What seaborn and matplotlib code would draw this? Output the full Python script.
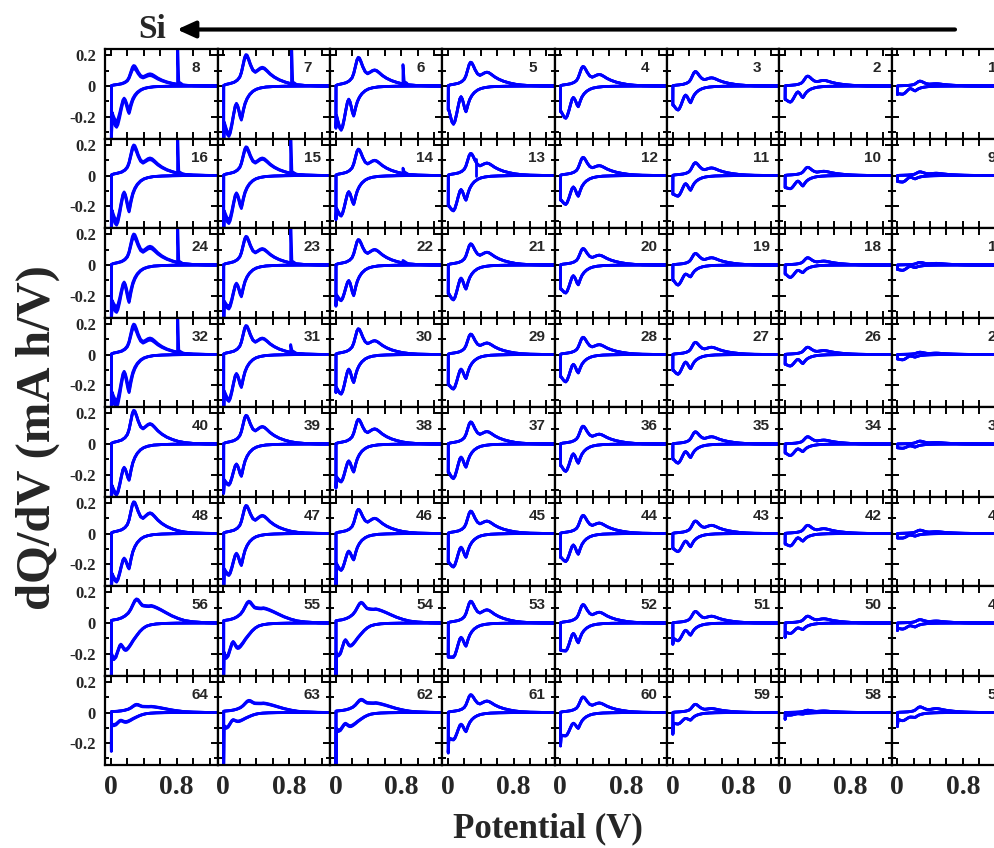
import numpy as np
import pandas as pd
import matplotlib
matplotlib.use("Agg")
import matplotlib.pyplot as plt
import seaborn as sns
from matplotlib.patches import FancyArrowPatch
from matplotlib.ticker import MultipleLocator, FixedLocator, FuncFormatter

# ---------------- data (panel order 1..64) ----------------
panel_ids = list(range(1, 65))
peak1 = [0.032, 0.065, 0.095, 0.128, 0.156, 0.188, 0.206, 0.134,
         0.024, 0.054, 0.084, 0.119, 0.145, 0.173, 0.188, 0.200,
         0.017, 0.048, 0.076, 0.108, 0.139, 0.167, 0.188, 0.203,
         0.015, 0.048, 0.080, 0.113, 0.134, 0.169, 0.190, 0.199,
         0.019, 0.048, 0.080, 0.117, 0.145, 0.162, 0.188, 0.221,
         0.022, 0.054, 0.082, 0.119, 0.147, 0.158, 0.184, 0.208,
         0.022, 0.045, 0.076, 0.121, 0.143, 0.136, 0.143, 0.158,
         0.037, 0.015, 0.054, 0.102, 0.117, 0.087, 0.080, 0.054]
peak2 = [0.015, 0.037, 0.054, 0.076, 0.091, 0.106, 0.123, 0.080,
         0.015, 0.028, 0.050, 0.065, 0.082, 0.100, 0.115, 0.115,
         0.011, 0.026, 0.048, 0.065, 0.084, 0.102, 0.108, 0.123,
         0.009, 0.026, 0.048, 0.065, 0.076, 0.091, 0.108, 0.108,
         0.010, 0.026, 0.048, 0.065, 0.082, 0.100, 0.115, 0.134,
         0.012, 0.032, 0.054, 0.069, 0.082, 0.100, 0.119, 0.136,
         0.013, 0.028, 0.045, 0.071, 0.087, 0.093, 0.100, 0.115,
         0.026, 0.010, 0.026, 0.063, 0.076, 0.065, 0.063, 0.041]
dip1 = [0.032, 0.076, 0.110, 0.136, 0.169, 0.197, 0.223, 0.180,
        0.022, 0.069, 0.097, 0.136, 0.162, 0.190, 0.216, 0.238,
        0.017, 0.050, 0.078, 0.130, 0.158, 0.201, 0.208, 0.245,
        0.017, 0.060, 0.093, 0.121, 0.158, 0.184, 0.216, 0.249,
        0.020, 0.050, 0.089, 0.126, 0.152, 0.184, 0.212, 0.238,
        0.017, 0.050, 0.087, 0.136, 0.156, 0.173, 0.210, 0.232,
        0.026, 0.043, 0.080, 0.130, 0.152, 0.152, 0.167, 0.180,
        0.032, 0.010, 0.050, 0.104, 0.126, 0.093, 0.060, 0.065]
lmax = [0.017, 0.039, 0.060, 0.076, 0.071, 0.089, 0.120, 0.093,
        0.011, 0.037, 0.054, 0.076, 0.093, 0.108, 0.123, 0.119,
        0.009, 0.035, 0.060, 0.071, 0.087, 0.104, 0.126, 0.126,
        0.010, 0.032, 0.050, 0.065, 0.097, 0.097, 0.130, 0.126,
        0.012, 0.032, 0.050, 0.065, 0.087, 0.113, 0.134, 0.158,
        0.010, 0.028, 0.050, 0.076, 0.091, 0.117, 0.134, 0.167,
        0.018, 0.032, 0.048, 0.069, 0.095, 0.113, 0.128, 0.145,
        0.030, 0.008, 0.039, 0.071, 0.078, 0.076, 0.050, 0.055]
dip2 = [0.054, 0.106, 0.158, 0.212, 0.251, 0.290, 0.330, 0.270,
        0.043, 0.087, 0.136, 0.190, 0.232, 0.266, 0.314, 0.325,
        0.035, 0.082, 0.132, 0.184, 0.229, 0.234, 0.288, 0.310,
        0.035, 0.076, 0.130, 0.180, 0.227, 0.260, 0.307, 0.346,
        0.028, 0.076, 0.126, 0.180, 0.227, 0.249, 0.270, 0.335,
        0.030, 0.082, 0.119, 0.184, 0.220, 0.242, 0.275, 0.318,
        0.040, 0.069, 0.117, 0.184, 0.225, 0.216, 0.232, 0.240,
        0.054, 0.017, 0.076, 0.154, 0.180, 0.125, 0.104, 0.087]
dend = [0.050, 0.089, 0.126, 0.169, 0.158, 0.200, 0.250, 0.200,
        0.040, 0.080, 0.123, 0.162, 0.200, 0.220, 0.250, 0.250,
        0.030, 0.060, 0.100, 0.158, 0.190, 0.200, 0.250, 0.260,
        0.030, 0.065, 0.104, 0.147, 0.200, 0.220, 0.250, 0.280,
        0.025, 0.060, 0.100, 0.143, 0.188, 0.220, 0.240, 0.280,
        0.030, 0.070, 0.100, 0.158, 0.190, 0.200, 0.240, 0.270,
        0.035, 0.060, 0.100, 0.180, 0.225, 0.200, 0.200, 0.210,
        0.045, 0.017, 0.070, 0.150, 0.170, 0.110, 0.090, 0.080]
dlow = [0.056, 0.089, 0.126, 0.169, 0.158, 0.277, 0.400, 0.400,
        0.040, 0.080, 0.123, 0.162, 0.200, 0.290, 0.400, 0.400,
        0.030, 0.060, 0.100, 0.158, 0.190, 0.270, 0.400, 0.400,
        0.030, 0.065, 0.104, 0.147, 0.200, 0.250, 0.400, 0.400,
        0.025, 0.060, 0.100, 0.143, 0.188, 0.290, 0.325, 0.400,
        0.030, 0.070, 0.100, 0.158, 0.190, 0.400, 0.400, 0.400,
        0.050, 0.095, 0.140, 0.180, 0.225, 0.400, 0.400, 0.400,
        0.093, 0.045, 0.143, 0.220, 0.266, 0.400, 0.400, 0.255]
spread = [0.02, 0.02, 0.02, 0.02, 0.02, 0.04, 0.06, 0.15,
          0.02, 0.02, 0.02, 0.02, 0.02, 0.03, 0.08, 0.10,
          0.02, 0.02, 0.02, 0.02, 0.02, 0.03, 0.06, 0.12,
          0.02, 0.02, 0.02, 0.02, 0.02, 0.02, 0.05, 0.13,
          0.02, 0.02, 0.02, 0.02, 0.02, 0.03, 0.03, 0.04,
          0.02, 0.02, 0.02, 0.02, 0.02, 0.02, 0.04, 0.04,
          0.02, 0.02, 0.02, 0.02, 0.02, 0.04, 0.06, 0.05,
          0.02, 0.02, 0.02, 0.02, 0.03, 0.08, 0.08, 0.10]
shape_kind = ("AAAAAAAA" "AAAAAAAA" "AAAAAAAA" "AAAAAAAA"
              "AAAAAAAA" "AAAAAAAA" "AAAAABBB" "AAAAABBB")

# sharp spikes seen in some panels (potential, base value, tip value)
spike_panel = [8, 7, 6, 16, 15, 14, 24, 23, 22, 32, 31, 13]
spike_v = [0.81, 0.83, 0.82, 0.81, 0.82, 0.82, 0.81, 0.82, 0.82, 0.81, 0.82, 0.34]
spike_base = [0.012, 0.012, 0.015, 0.012, 0.012, 0.010, 0.012, 0.012, 0.010, 0.012, 0.012, 0.110]
spike_tip = [0.30, 0.30, 0.14, 0.30, 0.30, 0.048, 0.30, 0.30, 0.03, 0.30, 0.065, 0.0]

# normalised curve templates
# discharge (potential descending): weights of dip1, local max, dip2, end value
DIS = {
    "A": dict(v=[1.30, 1.10, 0.90, 0.75, 0.62, 0.52, 0.45, 0.40, 0.36, 0.32, 0.29, 0.265, 0.245, 0.23,
                 0.22, 0.205, 0.19, 0.175, 0.16, 0.145, 0.125, 0.105, 0.085, 0.068, 0.05, 0.035, 0.022, 0.012],
              d1=[0, 0, 0.002, 0.006, 0.015, 0.03, 0.06, 0.10, 0.16, 0.26, 0.38, 0.53, 0.72, 0.90,
                  1.0, 0.80, 0.45, 0.15, 0, 0, 0, 0, 0, 0, 0, 0, 0, 0],
              lm=[0, 0, 0, 0, 0, 0, 0, 0, 0, 0, 0, 0, 0, 0,
                  0, 0.2, 0.55, 0.85, 1.0, 0.92, 0.65, 0.35, 0.10, 0, 0, 0, 0, 0],
              d2=[0, 0, 0, 0, 0, 0, 0, 0, 0, 0, 0, 0, 0, 0,
                  0, 0, 0, 0, 0, 0.08, 0.35, 0.65, 0.90, 1.0, 0.85, 0.55, 0.25, 0],
              de=[0, 0, 0, 0, 0, 0, 0, 0, 0, 0, 0, 0, 0, 0,
                  0, 0, 0, 0, 0, 0, 0, 0, 0, 0, 0.15, 0.45, 0.75, 1.0]),
    "B": dict(v=[1.30, 1.00, 0.80, 0.65, 0.55, 0.48, 0.43, 0.39, 0.35, 0.31, 0.27, 0.24, 0.21, 0.19,
                 0.175, 0.16, 0.145, 0.13, 0.12, 0.105, 0.09, 0.075, 0.06, 0.047, 0.035, 0.025, 0.015, 0.008],
              d1=[0, 0, 0.005, 0.015, 0.035, 0.07, 0.12, 0.20, 0.32, 0.48, 0.65, 0.80, 0.93, 0.99,
                  1.0, 0.85, 0.50, 0.15, 0, 0, 0, 0, 0, 0, 0, 0, 0, 0],
              lm=[0, 0, 0, 0, 0, 0, 0, 0, 0, 0, 0, 0, 0, 0,
                  0, 0.15, 0.50, 0.85, 1.0, 0.90, 0.65, 0.40, 0.15, 0, 0, 0, 0, 0],
              d2=[0, 0, 0, 0, 0, 0, 0, 0, 0, 0, 0, 0, 0, 0,
                  0, 0, 0, 0, 0, 0.10, 0.35, 0.60, 0.85, 0.97, 1.0, 0.8, 0.4, 0],
              de=[0, 0, 0, 0, 0, 0, 0, 0, 0, 0, 0, 0, 0, 0,
                  0, 0, 0, 0, 0, 0, 0, 0, 0, 0, 0, 0.2, 0.6, 1.0]),
}
# charge (potential ascending): weights of peak1, peak2
CHG = {
    "A": dict(v=[0.005, 0.03, 0.08, 0.13, 0.17, 0.20, 0.22, 0.24, 0.26, 0.275, 0.29, 0.31, 0.33, 0.36, 0.39,
                 0.42, 0.45, 0.475, 0.50, 0.53, 0.57, 0.62, 0.68, 0.75, 0.82, 0.90, 1.00, 1.15, 1.30],
              p1=[0.02, 0.05, 0.08, 0.12, 0.19, 0.29, 0.44, 0.68, 0.92, 1.0, 0.96, 0.78, 0.55, 0.30, 0.13,
                  0.05, 0.02, 0, 0, 0, 0, 0, 0, 0, 0, 0, 0, 0, 0],
              p2=[0, 0, 0, 0, 0, 0, 0, 0, 0, 0, 0.04, 0.13, 0.25, 0.37, 0.55,
                  0.78, 0.93, 1.0, 0.96, 0.84, 0.66, 0.49, 0.34, 0.22, 0.13, 0.07, 0.03, 0.01, 0.002]),
    "B": dict(v=[0.005, 0.03, 0.08, 0.13, 0.17, 0.21, 0.24, 0.27, 0.29, 0.31, 0.33, 0.355, 0.38, 0.40,
                 0.43, 0.46, 0.49, 0.52, 0.56, 0.61, 0.67, 0.74, 0.82, 0.90, 1.00, 1.15, 1.30],
              p1=[0.11, 0.13, 0.16, 0.22, 0.30, 0.42, 0.58, 0.80, 0.94, 1.0, 0.90, 0.60, 0.30, 0.15,
                  0.05, 0, 0, 0, 0, 0, 0, 0, 0, 0, 0, 0, 0],
              p2=[0, 0, 0, 0, 0, 0, 0, 0, 0, 0, 0.10, 0.35, 0.62, 0.80,
                  0.92, 0.98, 1.0, 0.96, 0.88, 0.76, 0.60, 0.42, 0.26, 0.14, 0.07, 0.02, 0.005]),
}

y_tick_labels = {0.2: "0.2", 0.0: "0", -0.2: "-0.2"}
x_tick_labels = {0.0: "0", 0.8: "0.8"}

# ---------------- style ----------------
sns.set_style("ticks")
plt.rcParams["font.family"] = ["Liberation Serif", "DejaVu Serif"]
plt.rcParams["axes.unicode_minus"] = False

W, H = 995, 848
fig = plt.figure(figsize=(W / 100, H / 100), dpi=100)

LINE = "#0000ff"
LW = 2.0
x0_px, y0_px, cw, rh = 105.5, 49.3, 112.3, 89.5
SANS = ["Liberation Sans", "DejaVu Sans"]


def cycle_frame(i):
    k = shape_kind[i]
    d, c = DIS[k], CHG[k]
    rows = []
    for cyc, f in enumerate([1.0, 1.0 - spread[i] / 2, 1.0 - spread[i]]):
        dv = np.array(d["v"])
        dy = -(np.array(d["d1"]) * dip1[i] + np.array(d["lm"]) * lmax[i]
               + np.array(d["d2"]) * dip2[i] + np.array(d["de"]) * dend[i]) * f
        cv = np.array(c["v"])
        cy = (np.array(c["p1"]) * peak1[i] + np.array(c["p2"]) * peak2[i]) * f
        vv = np.concatenate([dv, [0.004], cv])
        yy = np.concatenate([dy, [-dlow[i] * (f if dlow[i] < 0.35 else 1.0)], cy])
        rows.append(pd.DataFrame({"V": vv, "dQ": yy, "cycle": cyc}))
    return pd.concat(rows, ignore_index=True)


for r in range(8):
    for ci in range(8):
        pid = 8 * r + (8 - ci)
        i = pid - 1
        left = x0_px + ci * cw
        top = y0_px + r * rh
        ax = fig.add_axes([left / W, 1 - (top + rh) / H, cw / W, rh / H])
        df = cycle_frame(i)
        sns.lineplot(data=df, x="V", y="dQ", units="cycle", estimator=None, sort=False,
                     color=LINE, lw=LW, ax=ax, legend=False)
        for sp, sv, sb, st in zip(spike_panel, spike_v, spike_base, spike_tip):
            if sp == pid:
                if st > sb:
                    sdf = pd.DataFrame({"V": [sv, sv, sv + 0.015, sv + 0.05],
                                        "dQ": [sb, st, sb + 0.015, sb + 0.003]})
                else:
                    sdf = pd.DataFrame({"V": [sv, sv], "dQ": [sb, st]})
                sns.lineplot(data=sdf, x="V", y="dQ", sort=False, estimator=None,
                             color=LINE, lw=LW, ax=ax, legend=False)
        ax.set_xlim(-0.067, 1.30)
        ax.set_ylim(-0.345, 0.24)
        ax.set_xlabel("")
        ax.set_ylabel("")
        ax.xaxis.set_major_locator(MultipleLocator(0.2))
        ax.yaxis.set_major_locator(FixedLocator([-0.2, 0.0, 0.2]))
        ax.yaxis.set_minor_locator(FixedLocator([-0.3, -0.1, 0.1]))
        ax.tick_params(which="both", direction="in", top=True, right=True,
                       bottom=True, left=True, color="black", width=1.4)
        ax.tick_params(which="major", length=5)
        ax.tick_params(which="minor", length=3)
        for s in ax.spines.values():
            s.set_linewidth(1.6)
            s.set_color("black")
        if ci == 0:
            ax.yaxis.set_major_formatter(FuncFormatter(
                lambda v, p: y_tick_labels.get(round(v, 2), "")))
            ax.tick_params(axis="y", labelleft=True, pad=7, labelsize=12)
            for t in ax.get_yticklabels():
                t.set_fontweight("bold")
        else:
            ax.tick_params(axis="y", labelleft=False)
        if r == 7:
            ax.xaxis.set_major_formatter(FuncFormatter(
                lambda v, p: x_tick_labels.get(round(v, 2), "")))
            ax.tick_params(axis="x", labelbottom=True, pad=7, labelsize=20)
            for t in ax.get_xticklabels():
                t.set_fontweight("bold")
        else:
            ax.tick_params(axis="x", labelbottom=False)
        if ci < 6:
            ax.text(86 / cw, 0.788, str(pid), transform=ax.transAxes, ha="left", va="center",
                    fontsize=11, fontweight="bold", family=SANS)
        elif ci == 6:
            ax.text(102 / cw, 0.788, str(pid), transform=ax.transAxes, ha="right", va="center",
                    fontsize=11, fontweight="bold", family=SANS)
        else:
            ax.text(96 / cw, 0.788, str(pid), transform=ax.transAxes, ha="left", va="center",
                    fontsize=11, fontweight="bold", family=SANS)

fig.text(38 / W, 1 - 438 / H, "dQ/dV (mA h/V)", rotation=90, ha="center", va="center",
         fontsize=35, fontweight="bold")
fig.text(548 / W, 1 - 829 / H, "Potential (V)", ha="center", va="center",
         fontsize=25, fontweight="bold")
fig.text(152 / W, 1 - 29.5 / H, "Si", ha="center", va="center", fontsize=24, fontweight="bold")
arrow = FancyArrowPatch((955 / W, 1 - 29.5 / H), (177 / W, 1 - 29.5 / H),
                        transform=fig.transFigure, arrowstyle="-|>,head_length=0.55,head_width=0.25",
                        mutation_scale=20, lw=3, color="black", shrinkA=0, shrinkB=0)
fig.add_artist(arrow)

fig.savefig("out.png", dpi=100)
